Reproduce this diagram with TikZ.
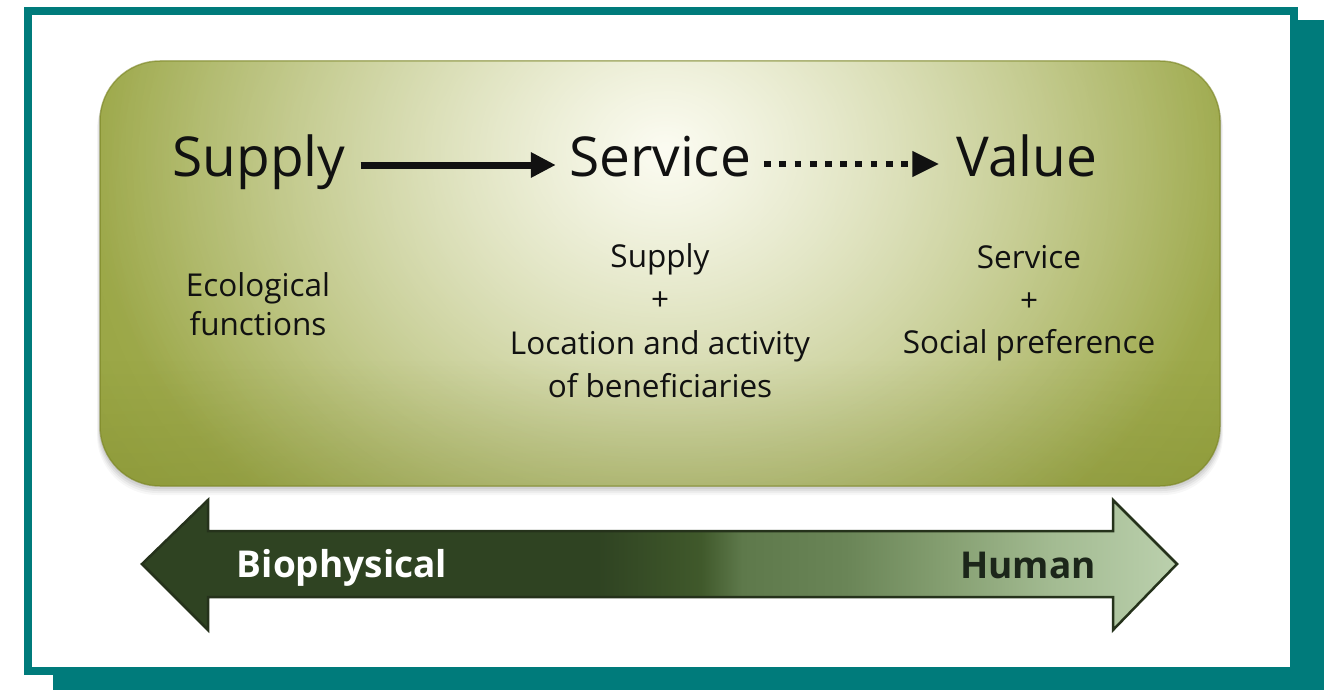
\documentclass[tikz,border=0pt]{standalone}
\usepackage{fontspec}
\setmainfont{Open Sans}
\usetikzlibrary{arrows.meta,fadings}

\definecolor{frameteal}{HTML}{007B7B}
\definecolor{olivebase}{HTML}{8C9A2C}
\definecolor{olivedark}{HTML}{6A7620}
\definecolor{oliveedge}{HTML}{7A8424}
\definecolor{glowcream}{HTML}{FCFCF2}
\definecolor{textblack}{HTML}{111111}
\definecolor{bandedge}{HTML}{25321B}
\definecolor{bandA}{HTML}{2F4322}
\definecolor{bandB}{HTML}{40592B}
\definecolor{bandC}{HTML}{5E794B}
\definecolor{bandD}{HTML}{6A8557}
\definecolor{bandE}{HTML}{86A072}
\definecolor{bandF}{HTML}{A3BB92}
\definecolor{bandG}{HTML}{BBD0AD}
\definecolor{humantext}{HTML}{1C261A}

% dark-to-light ramp of the bottom double arrow
\pgfdeclarehorizontalshading{bandshade}{100bp}{%
  color(0bp)=(bandA); color(25bp)=(bandA); color(47bp)=(bandA);
  color(52bp)=(bandB); color(54bp)=(bandC); color(59bp)=(bandD);
  color(64bp)=(bandE); color(69bp)=(bandF); color(75bp)=(bandG);
  color(100bp)=(bandG)}

\tikzfading[name=glowfade, inner color=transparent!0, outer color=transparent!100]
\tikzfading[name=upfade, top color=transparent!100, bottom color=transparent!0]

\tikzset{
  title/.style={font=\fontsize{55}{60}\selectfont, inner sep=0pt, anchor=base, text=textblack},
  sub/.style={font=\fontsize{31.5}{36}\selectfont, inner sep=0pt, anchor=base, text=textblack},
  bandlabel/.style={font=\fontsize{37}{40}\selectfont\bfseries, inner sep=0pt, anchor=base},
  flowarrow/.style={line width=7pt, draw=textblack, -{Triangle[length=25pt,width=24pt]}},
  dotarrow/.style={line width=6.7pt, draw=textblack, dash pattern=on 6.7pt off 8.5pt,
    -{Triangle[length=27pt,width=24pt]}},
}

\begin{document}
\begin{tikzpicture}[x=1pt,y=-1pt]
\useasboundingbox (0,0) rectangle (1324,690);

% frame with offset shadow
\fill[frameteal] (53,20) rectangle (1324,690);
\fill[frameteal] (24,7) rectangle (1298,675);
\fill[white] (32,15) rectangle (1290,667);

% soft shadow under the panel
\foreach \d/\o in {9/0.03,7/0.04,5/0.05,3/0.06}
  \fill[black, opacity=\o, rounded corners=60pt] (100-\d/3,61+\d) rectangle (1220+\d/3,486+\d);

% olive panel with a pale glow
\begin{scope}
  \clip[rounded corners=60pt] (100,61) rectangle (1220,486);
  \fill[olivebase] (100,61) rectangle (1220,486);
  \fill[glowcream, opacity=0.4, path fading=glowfade] (670,200) ellipse [x radius=900, y radius=720];
  \fill[glowcream, path fading=glowfade] (665,150) ellipse [x radius=580, y radius=480];
  \fill[olivedark, path fading=upfade, opacity=0.2] (100,360) rectangle (1220,486);
\end{scope}
\draw[oliveedge, line width=1.5pt, opacity=0.6, rounded corners=60pt] (100,61) rectangle (1220,486);

% headline chain
\node[title] (supply)  at (259,176)  {Supply};
\node[title] (service) at (660,176)  {Service};
\node[title] (value)   at (1027,176) {Value};

\draw[flowarrow] ([shift={(15,-11)}]supply.base east) -- ([shift={(-13,-11)}]service.base west);
\draw[dotarrow]  ([shift={(13,-12)}]service.base east) -- ([shift={(-17,-12)}]value.base west);

% explanations under each term
\node[sub] (eco1) at (258,296) {Ecological};
\node[sub] (eco2) at (258,335) {functions};

\node[sub] (srv1) at (660,267)   {Supply};
\node[sub] (srv2) at (660,310.5) {+};
\node[sub] (srv3) at (660,354)   {Location and activity};
\node[sub] (srv4) at (660,397.5) {of beneficiaries};

\node[sub] (val1) at (1029,268) {Service};
\node[sub] (val2) at (1029,311) {+};
\node[sub] (val3) at (1029,353) {Social preference};

% biophysical-to-human double arrow
\shadedraw[shading=bandshade, draw=bandedge, line width=2.5pt, line join=miter]
  (142,564) -- (208,500) -- (208,531) -- (1113,531) -- (1113,500) -- (1177,564)
  -- (1113,630) -- (1113,597) -- (208,597) -- (208,630) -- cycle;

\node[bandlabel, text=white]     (bio)   at (342,577)  {Biophysical};
\node[bandlabel, text=humantext] (human) at (1028,578) {Human};
\end{tikzpicture}
\end{document}
